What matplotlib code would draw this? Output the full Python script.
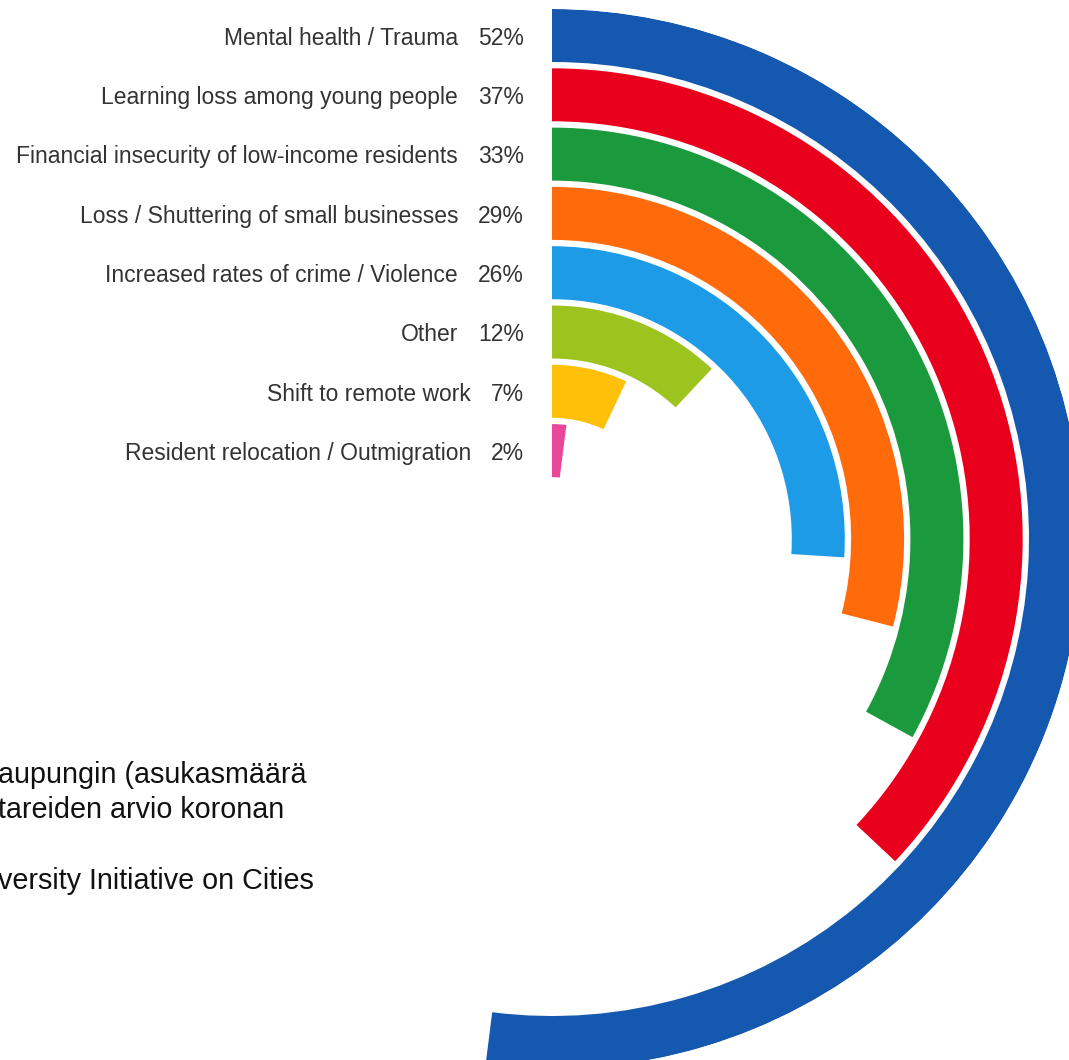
import numpy as np
import matplotlib
matplotlib.use("Agg")
from matplotlib import pyplot as plt

# data
categories = ["Mental health / Trauma",
              "Learning loss among young people",
              "Financial insecurity of low-income residents",
              "Loss / Shuttering of small businesses",
              "Increased rates of crime / Violence",
              "Other",
              "Shift to remote work",
              "Resident relocation / Outmigration"]
shares = [52, 37, 33, 29, 26, 12, 7, 2]
colors = ["#1558b0", "#e8001c", "#1a9a3c", "#ff6a0a",
          "#1d9be6", "#9dc41e", "#ffc00a", "#e8479a"]
note_lines = ["aupungin (asukasmäärä",
              "tareiden arvio koronan",
              "",
              "versity Initiative on Cities"]

W, H = 1069, 1060
fig = plt.figure(figsize=(W / 100, H / 100), dpi=100)

# polar axes: centre at (552, 539) px from top-left, outer radius 530 px
R = 530
ax = fig.add_axes([(552 - R) / W, (H - 539 - R) / H, 2 * R / W, 2 * R / H],
                  projection="polar")
ax.set_theta_zero_location("N")
ax.set_theta_direction(-1)
ax.set_ylim(0, R)
ax.axis("off")

pitch = 59.3
band = 53
for i, (name, val, col) in enumerate(zip(categories, shares, colors)):
    outer = R - i * pitch
    ax.bar(0, band, width=val / 100 * 2 * np.pi, bottom=outer - band,
           align="edge", color=col, edgecolor="none")
    mid = outer - band / 2
    pct = ax.annotate(f"{val}%", xy=(0, mid), xycoords="data",
                      xytext=(-20.2, -2), textcoords="offset points",
                      ha="right", va="center", fontsize=16.5,
                      family="Liberation Sans", color="#333333",
                      annotation_clip=False)
    ax.annotate(name, xy=(0, 0.5), xycoords=pct,
                xytext=(-14.4, 0), textcoords="offset points",
                ha="right", va="center", fontsize=16.5,
                family="Liberation Sans", color="#333333",
                annotation_clip=False)

for k, line in enumerate(note_lines):
    fig.text(-2 / W, 1 - (772 + k * 35.3) / H, line, ha="left", va="center_baseline",
             fontsize=20.7, family="Liberation Sans", color="#111111")

fig.savefig("out.png", dpi=100)
